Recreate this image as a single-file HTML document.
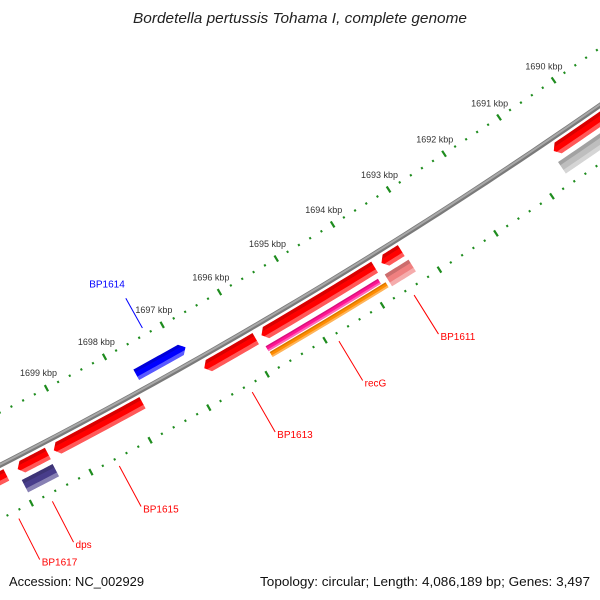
<!DOCTYPE html>
<html><head><meta charset="utf-8"><style>
html,body{margin:0;padding:0;background:#fff;}
svg{display:block;font-family:"Liberation Sans",sans-serif;}
</style></head><body>
<svg id="c" width="600" height="600" viewBox="0 0 600 600" xmlns="http://www.w3.org/2000/svg">
<defs id="defs"></defs>
<g id="ticks"></g>
<g id="backbone"></g>
<g id="feats"></g>
<g id="labels"></g>
<text x="133" y="23" textLength="334" lengthAdjust="spacingAndGlyphs" font-size="14.5" font-style="italic" fill="#222">Bordetella pertussis Tohama I, complete genome</text>
<text x="9" y="586" textLength="135" lengthAdjust="spacingAndGlyphs" font-size="13" fill="#111">Accession: NC_002929</text>
<text x="260" y="586" textLength="330" lengthAdjust="spacingAndGlyphs" font-size="13" fill="#111">Topology: circular; Length: 4,086,189 bp; Genes: 3,497</text>
</svg>
<script>
const featNames=["BP1614","BP1613","f3","f4","BP1611","recG","f7","f8","f9","BP1615","f11","BP1617","dps"];
const featStart=[1696.86,1695.88,1693.80,1693.33,1693.31,1693.85,1693.78,1689.0,1689.0,1697.83,1699.44,1700.14,1699.45];
const featEnd=[1697.71,1696.77,1695.78,1693.68,1693.73,1695.81,1695.80,1690.60,1690.64,1699.34,1699.95,1701.0,1699.97];
const featRow=["fwd","r1","r1","r1","r2","pink","orange","r1","r2","r1","r1","r1","r2"];
const featColor=["#0000ff","#ff0000","#ff0000","#ff0000","#f08080","#ff1493","#ff8c00","#ff0000","#bebebe","#ff0000","#ff0000","#ff0000","#483d8b"];
const featDir=[-1,1,1,1,0,0,0,1,0,1,1,1,0];
const labelFeat=[0,1,4,5,9,11,12];
const tickStartKbp=1689.2, tickEndKbp=1701.0;

const NS="http://www.w3.org/2000/svg";
const CX=-2342, CY=-4118, A0=58.74, K0=1694.5, DEG=0.741;
const rows={fwd:[5125,5137],r1:[5152,5165],r2:[5170,5184],pink:[5170,5176],orange:[5177,5183]};
function pt(k,r){const a=(A0+(k-K0)*DEG)*Math.PI/180;return [CX+r*Math.cos(a),CY+r*Math.sin(a)];}
function arcPts(k1,k2,r,n){const p=[];for(let i=0;i<=n;i++){p.push(pt(k1+(k2-k1)*i/n,r));}return p;}
function mk(tag,attrs,parent){const e=document.createElementNS(NS,tag);for(const a in attrs)e.setAttribute(a,attrs[a]);parent.appendChild(e);return e;}
function ps(p){return p.map(q=>q[0].toFixed(2)+","+q[1].toFixed(2)).join(" ");}
function shade(hex,f){let r=parseInt(hex.substr(1,2),16),g=parseInt(hex.substr(3,2),16),b=parseInt(hex.substr(5,2),16);
 if(f<0){r*=1+f;g*=1+f;b*=1+f;}else{r+=(255-r)*f;g+=(255-g)*f;b+=(255-b)*f;}
 return "rgb("+Math.round(r)+","+Math.round(g)+","+Math.round(b)+")";}

const tg=document.getElementById("ticks");
const nT=Math.round((tickEndKbp-tickStartKbp)/0.2);
[5100,5195].forEach((R,ri)=>{
 for(let i=0;i<=nT;i++){
  const k=tickStartKbp+i*0.2;const major=Math.abs(k-Math.round(k))<0.01;
  const h=major?3.5:1.1;
  const a=pt(k,R-h),b=pt(k,R+h);
  const l=mk("line",{x1:a[0],y1:a[1],x2:b[0],y2:b[1],stroke:"#1e8c1e","stroke-width":major?2.2:2},tg);
  
  
  if(major&&ri===0){
   const p=pt(k,5083);
   const t=mk("text",{x:p[0],y:p[1]+3,"text-anchor":"middle","font-size":"9",fill:"#333"},tg);
   t.textContent=Math.round(k)+" kbp";
   
   
  }
 }
});
const bg=document.getElementById("backbone");
[[5147,5,"#7a7a7a"],[5146.3,2,"#a8a8a8"]].forEach(s=>{
 const p=mk("polyline",{points:ps(arcPts(1689,1701.5,s[0],60)),fill:"none",stroke:s[2],"stroke-width":s[1]},bg);
 
 
});
const fg=document.getElementById("feats"),defs=document.getElementById("defs");
featNames.forEach((nm,i)=>{
 const [ri,ro]=rows[featRow[i]];const s=featStart[i],e=featEnd[i],d=featDir[i];const ah=0.08;
 let s2=s,e2=e;if(d<0)s2=s+ah;if(d>0)e2=e-ah;
 let poly=arcPts(s2,e2,ro,20);
 if(d>0)poly.push(pt(e,(ri+ro)/2));
 poly=poly.concat(arcPts(e2,s2,ri,20));
 if(d<0)poly.push(pt(s,(ri+ro)/2));
 const cp=mk("clipPath",{id:"cp"+i},defs);
 mk("polygon",{points:ps(poly)},cp);
 const g=mk("g",{"clip-path":"url(#cp"+i+")"},fg);
 
 
 const w=ro-ri;const c=featColor[i];
 const bands=[[ri,ri+w*0.3,shade(c,-0.15)],[ri+w*0.3,ro-w*0.3,c],[ro-w*0.3,ro,shade(c,0.35)]];
 bands.forEach(b=>{
  const bp=arcPts(s-0.1,e+0.1,b[1],20).concat(arcPts(e+0.1,s-0.1,b[0]-0.3,20));
  mk("polygon",{points:ps(bp),fill:b[2]},g);
 });
});
const lg=document.getElementById("labels");
labelFeat.forEach(fi=>{
 const k=(featStart[fi]+Math.min(featEnd[fi],fi===11?1700.4:featEnd[fi]))/2;
 const up=featRow[fi]==="fwd";const col=featColor[fi]==="#0000ff"?"#0000ff":"#ff0000";
 const a=up?pt(k,5093):pt(k,5203),b=up?pt(k,5059):pt(k,5249);
 const l=mk("line",{x1:a[0],y1:a[1],x2:b[0],y2:b[1],stroke:col,"stroke-width":1},lg);
 
 
 const t=mk("text",{x:up?b[0]-1:b[0]+2,y:up?b[1]-11:b[1]+6,"text-anchor":up?"end":"start","font-size":"10",fill:col},lg);
 t.textContent=featNames[fi];
 
 
});
</script>
</body></html>
